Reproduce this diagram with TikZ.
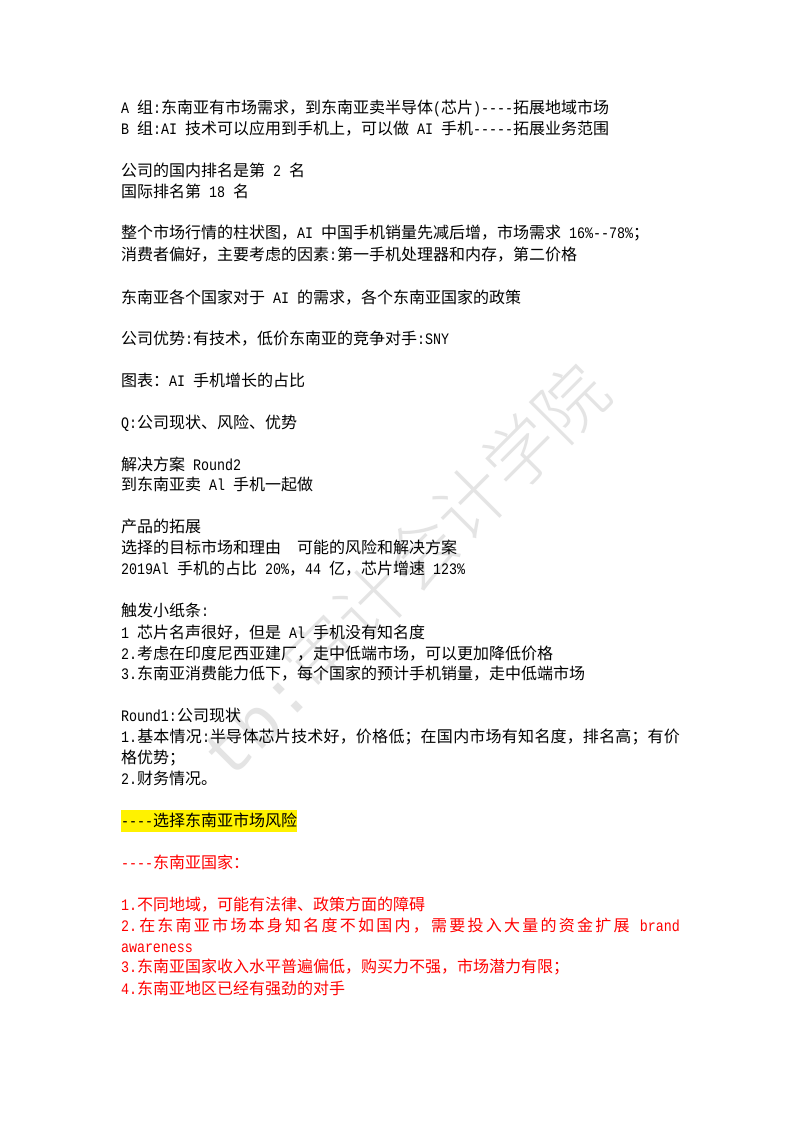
\documentclass[tikz,border=0pt]{standalone}
\usepackage{fontspec}
\setmainfont{Noto Sans CJK SC}
\newfontfamily\latinmono[FakeStretch=0.8333]{Liberation Mono}
\newfontfamily\wmlatin{Liberation Mono}
\newfontfamily\wmcjk{Noto Sans CJK SC Light}
\newcommand{\E}[1]{{\latinmono #1}}
\newcommand{\g}{\hfil}
\definecolor{wmgray}{HTML}{E4E4E4}
\tikzset{
  textline/.style={anchor=base west,inner sep=0pt,outer sep=0pt,font=\fontsize{12pt}{12pt}\selectfont,text=black},
  redline/.style={textline,text=red},
  markline/.style={textline,fill=yellow,text height=12.2pt,text depth=4.4pt},
  watermark/.style={rotate=45,inner sep=0pt,text=wmgray}
}
\begin{document}
\begin{tikzpicture}[x=0.75pt,y=-0.75pt]
\useasboundingbox[fill=white] (0,0) rectangle (800,1132);
\node[watermark] (wm) at (403,570) {{\wmlatin\fontsize{50pt}{50pt}\selectfont tb:}{\wmcjk\fontsize{53pt}{53pt}\selectfont 审计会计学院}};
\begin{scope}[shift={(0,1)}]
\node[textline] (l01) at (121,112) {\E{A }组\E{:}东南亚有市场需求，到东南亚卖半导体\E{(}芯片\E{)----}拓展地域市场};
\node[textline] (l02) at (121,133) {\E{B }组\E{:AI }技术可以应用到手机上，可以做\E{ AI }手机\E{-----}拓展业务范围};
\node[textline] (l03) at (121,175) {公司的国内排名是第\E{ 2 }名};
\node[textline] (l04) at (121,196) {国际排名第\E{ 18 }名};
\node[textline] (l05) at (121,237) {整个市场行情的柱状图，\E{AI }中国手机销量先减后增，市场需求\E{ 16\%--78\%}；};
\node[textline] (l06) at (121,259) {消费者偏好，主要考虑的因素\E{:}第一手机处理器和内存，第二价格};
\node[textline] (l07) at (121,302) {东南亚各个国家对于\E{ AI }的需求，各个东南亚国家的政策};
\node[textline] (l08) at (121,343) {公司优势\E{:}有技术，低价东南亚的竞争对手\E{:SNY}};
\node[textline] (l09) at (121,385) {图表：\E{AI }手机增长的占比};
\node[textline] (l10) at (121,427) {\E{Q:}公司现状、风险、优势};
\node[textline] (l11) at (121,469) {解决方案\E{ Round2}};
\node[textline] (l12) at (121,489) {到东南亚卖\E{ Al }手机一起做};
\node[textline] (l13) at (121,531) {产品的拓展};
\node[textline] (l14) at (121,552) {选择的目标市场和理由\E{\ \ }可能的风险和解决方案};
\node[textline] (l15) at (121,573) {\E{2019Al }手机的占比\E{ 20\%}，\E{44 }亿，芯片增速\E{ 123\%}};
\node[textline] (l16) at (121,615) {触发小纸条\E{:}};
\node[textline] (l17) at (121,637) {\E{1 }芯片名声很好，但是\E{ Al }手机没有知名度};
\node[textline] (l18) at (121,658) {\E{2.}考虑在印度尼西亚建厂，走中低端市场，可以更加降低价格};
\node[textline] (l19) at (121,678) {\E{3.}东南亚消费能力低下，每个国家的预计手机销量，走中低端市场};
\node[textline] (l20) at (121,720) {\E{Round1:}公司现状};
\node[textline] (l21) at (121,741) {\makebox[419.25pt][s]{\E{1.}\g 基\g 本\g 情\g 况\E{:}半\g 导\g 体\g 芯\g 片\g 技\g 术\g 好\g ，价\g 格\g 低\g ；在\g 国\g 内\g 市\g 场\g 有\g 知\g 名\g 度\g ，排\g 名\g 高\g ；有\g 价}};
\node[textline] (l22) at (121,762) {格优势；};
\node[textline] (l23) at (121,783) {\E{2.}财务情况。};
\node[markline] (l24) at (121,825) {\E{----}选择东南亚市场风险};
\node[redline] (l25) at (121,867) {\E{----}东南亚国家：};
\node[redline] (l26) at (121,909) {\E{1.}不同地域，可能有法律、政策方面的障碍};
\node[redline] (l27) at (121,930) {\makebox[419.25pt][s]{\E{2.}\g\g 在\g\g 东\g\g 南\g\g 亚\g\g 市\g\g 场\g\g 本\g\g 身\g\g 知\g\g 名\g\g 度\g\g 不\g\g 如\g\g 国\g\g 内\g\g ，\g\g 需\g\g 要\g\g 投\g\g 入\g\g 大\g\g 量\g\g 的\g\g 资\g\g 金\g\g 扩\g\g 展\g\g \E{ brand}}};
\node[redline] (l28) at (121,951) {\E{awareness}};
\node[redline] (l29) at (121,971) {\E{3.}东南亚国家收入水平普遍偏低，购买力不强，市场潜力有限；};
\node[redline] (l30) at (121,993) {\E{4.}东南亚地区已经有强劲的对手};
\end{scope}
\end{tikzpicture}
\end{document}
